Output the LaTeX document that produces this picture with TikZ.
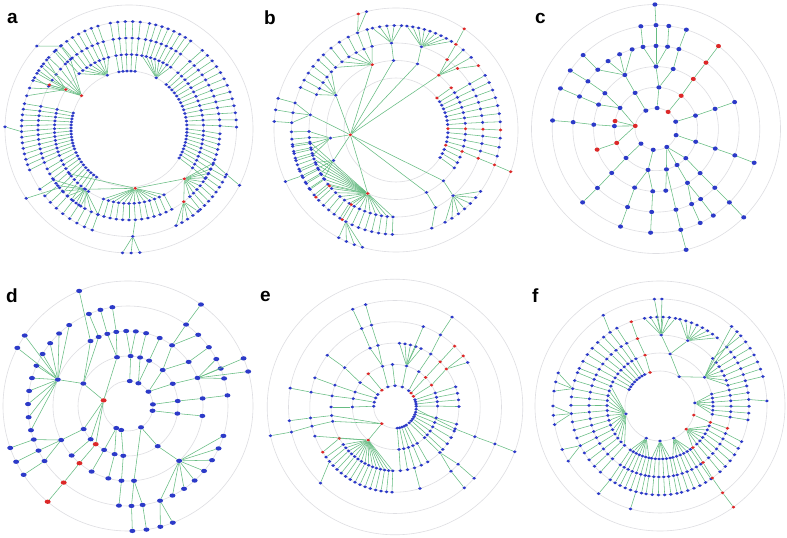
\documentclass[tikz,border=0pt]{standalone}
\usepackage{fontspec}
\setsansfont{Liberation Sans}
\usetikzlibrary{shapes.geometric}
\definecolor{nodeblue}{HTML}{2C3AC8}
\definecolor{nodered}{HTML}{DC2828}
\definecolor{linkgreen}{HTML}{66BC82}
\definecolor{ringgray}{HTML}{DEDEE2}
\tikzset{
  ring/.style={draw=ringgray,line width=0.6pt},
  link/.style={draw=linkgreen,line width=0.55pt},
  bl/.style={ellipse,fill=nodeblue,draw=none,inner sep=0pt,minimum width=3.8pt,minimum height=3pt},
  rd/.style={bl,fill=nodered},
  cb/.style={bl,minimum width=5pt,minimum height=4.3pt},
  cr/.style={cb,fill=nodered},
  db/.style={bl,minimum width=6pt,minimum height=4.3pt},
  dred/.style={db,fill=nodered},
  tag/.style={font=\sffamily\bfseries\fontsize{19}{19}\selectfont,anchor=base west,inner sep=0pt}
}
% level -> radius: \rin + level*\dr, both set by each panel
\newcommand\hub[4]{\node[#4] (#1) at ({#3}:{\rin+(#2)*\dr}) {};}
\newcommand\wire[2]{\draw[link] (#1) -- (#2);}
\newcommand\rings[1]{\foreach \rr in {#1}{\draw[ring] (0,0) circle[radius=\rr];}}
% fan: name, parent (or empty), level, first angle, last angle, count, levels further out, style, drift
\newcommand\fan[9]{%
  \foreach \kk in {1,...,#6}{%
    \pgfmathsetmacro\ang{#4+(\kk-1)*(#5-(#4))/max(#6-1,1)}%
    \node[#8] (#1-\kk) at ({\ang}:{\rin+(#3)*\dr}) {};
    \if\relax\detokenize{#2}\relax\else\wire{#2}{#1-\kk}\fi
    \ifnum#7>0\relax
      \foreach \jj in {1,...,#7}{%
        \pgfmathtruncatemacro\jp{\jj-1}%
        \node[#8] (#1-\kk-\jj) at ({\ang+\jj*(#9)}:{\rin+(#3+\jj)*\dr}) {};
        \ifnum\jj=1\relax\wire{#1-\kk}{#1-\kk-\jj}\else\wire{#1-\kk-\jp}{#1-\kk-\jj}\fi}%
    \fi}}
% branch: name, parent (or empty), style, list angle/level
\newcommand\branch[4]{%
  \foreach \an/\lv [count=\kk] in {#4}{%
    \pgfmathtruncatemacro\jp{\kk-1}%
    \node[#3] (#1-\kk) at ({\an}:{\rin+(\lv)*\dr}) {};
    \ifnum\kk=1\relax
      \if\relax\detokenize{#2}\relax\else\wire{#2}{#1-1}\fi
    \else\wire{#1-\jp}{#1-\kk}\fi}}

\begin{document}
\begin{tikzpicture}[x=1pt,y=1pt]
\useasboundingbox (0,0) rectangle (787,538);
\fill[white] (0,0) rectangle (787,538);

% panel a
\begin{scope}[shift={(129,409)}]
\def\rin{58}\def\dr{16.5}
\rings{58,74.5,91,107.5,124}
\hub{a-h1}{0}{112}{bl}
\fan{a-f1}{a-h1}{1}{132}{106}{8}{2}{bl}{0.4}
\fan{a-c1}{}{0}{100}{84}{5}{3}{bl}{0}
\hub{a-h2}{0}{62}{bl}
\fan{a-f2}{a-h2}{1}{80}{56}{8}{2}{bl}{-0.5}
\fan{a-c2}{}{0}{50}{4}{13}{3}{bl}{-1}
\fan{a-c3}{}{0}{0}{-30}{10}{2}{bl}{-1.5}
\hub{a-h3}{0.1}{-84}{rd}
\fan{a-f3}{a-h3}{1}{-62}{-110}{13}{1}{bl}{0}
\fan{a-f4}{a-f3-7-1}{3}{-88}{-88}{1}{0}{bl}{0}
\fan{a-f5}{a-f4-1}{4}{-85}{-93}{3}{0}{bl}{0}
\hub{a-h4}{1}{-42}{rd}
\wire{a-h3}{a-h4}
\fan{a-f6}{a-h4}{2}{-26}{-48}{8}{1}{bl}{-0.5}
\hub{a-h5}{2}{-53}{rd}
\wire{a-h4}{a-h5}
\fan{a-f7}{a-h5}{3}{-50}{-64}{5}{0}{bl}{0}
\branch{a-b1}{a-h4}{bl}{-22/2,-25/3,-27/4}
\hub{a-h6}{1}{-126}{bl}
\wire{a-h3}{a-h6}
\fan{a-f8}{a-h6}{2}{-110}{-146}{9}{1}{bl}{0}
\hub{a-h7}{1}{-143}{bl}
\wire{a-h3}{a-h7}
\fan{a-c4}{}{0}{164}{200}{13}{3}{bl}{0.8}
\fan{a-c5}{}{0}{204}{236}{10}{2}{bl}{1}
\branch{a-b2}{a-c4-6-3}{bl}{179/4}
\branch{a-b3}{a-c5-5-2}{bl}{214/4}
\hub{a-h8}{0}{145}{rd}
\fan{a-f9}{a-h8}{2}{152}{130}{6}{1}{bl}{-0.5}
\hub{a-h9}{1}{148}{rd}
\wire{a-h8}{a-h9}
\fan{a-f10}{a-h9}{3}{162}{140}{6}{0}{bl}{0}
\branch{a-b4}{a-h9}{rd}{151/2}
\branch{a-b5}{a-f9-6-1}{bl}{138/4}
\end{scope}

% panel b
\begin{scope}[shift={(396,408)}]
\def\rin{52}\def\dr{17.5}
\rings{52,69.5,87,104.5,122}
\hub{b-h1}{-0.35}{186}{rd}
\hub{b-h2}{1}{110}{rd}
\wire{b-h1}{b-h2}
\fan{b-f1}{b-h2}{2}{134}{106}{6}{1}{bl}{0}
\branch{b-r1}{b-f1-5-1}{rd}{108/4}
\branch{b-b1}{b-f1-5-1}{bl}{104/4}
\hub{b-h3}{1}{92}{bl}
\wire{b-h1}{b-h3}
\hub{b-h4}{2}{93}{bl}
\wire{b-h3}{b-h4}
\fan{b-f2}{b-h4}{3}{103}{87}{5}{0}{bl}{0}
\hub{b-h5}{1}{72}{bl}
\wire{b-h1}{b-h5}
\hub{b-h6}{2}{73}{bl}
\wire{b-h5}{b-h6}
\fan{b-f3}{b-h6}{3}{84}{58}{9}{0}{bl}{0}
\hub{b-h7}{1}{52}{rd}
\wire{b-h1}{b-h7}
\branch{b-r2}{b-h7}{rd}{54/2,55/3,56/4}
\branch{b-r3}{b-h7}{rd}{45/2,38/3}
\fan{b-f4}{b-h7}{3}{50}{44}{2}{0}{bl}{0}
\branch{b-r6}{}{rd}{38/0,37.4/1}
\fan{b-c1}{}{0}{33}{6}{7}{3}{bl}{-0.5}
\branch{b-r4}{}{rd}{1.5/0,1/1,0.5/2,0/3}
\fan{b-c2}{}{0}{-3}{-13}{3}{3}{bl}{-0.5}
\branch{b-r5}{}{rd}{-17/0,-18/1,-19/2,-19.5/3,-20/4}
\fan{b-c3}{}{0}{-22}{-32}{3}{1}{bl}{-1}
\hub{b-h8}{1}{-47}{bl}
\wire{b-h1}{b-h8}
\hub{b-h9}{2}{-49}{bl}
\wire{b-h8}{b-h9}
\fan{b-f5}{b-h9}{3}{-36}{-62}{7}{0}{bl}{0}
\hub{b-h10}{1}{-64}{bl}
\wire{b-h1}{b-h10}
\branch{b-b2}{b-h10}{bl}{-63/2,-70/3}
\hub{b-h11}{1}{-114}{rd}
\wire{b-h1}{b-h11}
\fan{b-f6}{b-h11}{2}{-172}{-92}{22}{1}{bl}{0}
\branch{b-r7}{b-h11}{rd}{-140/2,-140/3}
\branch{b-r8}{b-h11}{rd}{-121/2,-121/3}
\fan{b-f7}{b-f6-15-1}{4}{-118}{-106}{4}{0}{bl}{0}
\hub{b-h12}{1}{150}{bl}
\wire{b-h1}{b-h12}
\fan{b-f8}{b-h12}{2}{156}{138}{5}{1}{bl}{0}
\hub{b-h13}{2}{170}{bl}
\wire{b-h1}{b-h13}
\fan{b-f9}{b-h13}{3}{165}{176}{3}{1}{bl}{0}
\hub{b-h14}{0.8}{187}{bl}
\wire{b-h1}{b-h14}
\fan{b-f10}{b-h14}{2}{181}{197}{5}{1}{bl}{0}
\hub{b-h15}{1}{206}{bl}
\wire{b-h1}{b-h15}
\fan{b-f11}{b-h15}{2}{202}{214}{4}{1}{bl}{0}
\branch{b-b3}{b-f11-2-1}{bl}{205/4}
\end{scope}

% panel c
\begin{scope}[shift={(656,409)}]
\def\rin{21}\def\dr{20.7}
\rings{21,41.7,62.4,83.1,103.8,124.5}
\hub{c-h1}{0}{119}{cb}
\branch{c-b1}{c-h1}{cb}{120/1,120/2}
\fan{c-f1}{c-b1-2}{3}{134.5}{106.7}{4}{0}{cb}{0}
\branch{c-b2}{c-f1-1}{cb}{134.6/4}
\hub{c-h2}{0}{87}{cb}
\hub{c-h3}{1}{86}{cb}
\wire{c-h2}{c-h3}
\hub{c-h4}{2}{90}{cb}
\wire{c-h3}{c-h4}
\branch{c-b3}{c-h4}{cb}{99/3,98.4/4}
\branch{c-b4}{c-h4}{cb}{90/3,90/4,90.5/5}
\branch{c-b5}{c-h4}{cb}{82/3,82.9/4}
\branch{c-b6}{c-h3}{cb}{74/2,74/3,73/4}
\branch{c-r1}{}{cr}{54.6/0,52.8/1,53.3/2,53/3,53/4}
\branch{c-b7}{}{cb}{20.4/0,18.7/1,18.8/2,18.9/3}
\branch{c-b8}{}{cb}{-17/0,-17.8/1,-18.3/2,-18.5/3,-19/4}
\hub{c-h5}{0}{171.6}{cr}
\branch{c-b9}{c-h5}{cb}{149.7/1,145/2,145/3,145.7/4}
\branch{c-b10}{c-b9-1}{cb}{157/2,157/3,157/4}
\branch{c-r2}{c-h5}{cr}{169/1}
\branch{c-b11}{c-h5}{cb}{176/1,176/2,175.3/3,175.3/4}
\branch{c-r3}{c-h5}{cr}{199.5/1,199.3/2}
\branch{c-b12}{}{cb}{224.3/0,224/1,224.8/2,225.2/3,225/4}
\hub{c-h6}{0}{262.4}{cb}
\branch{c-b13}{c-h6}{cb}{259/1,250/2,250/3,250/4}
\branch{c-b14}{c-b13-1}{cb}{267/2,267/3,267/4}
\hub{c-h7}{0}{301}{cb}
\branch{c-b15}{c-h7}{cb}{284.5/1,279/2}
\branch{c-b16}{c-b15-1}{cb}{283.9/3,283.8/4,284/5}
\branch{c-b17}{c-h7}{cb}{300.3/1,300.3/2,295.4/3,295.2/4}
\branch{c-b18}{c-b17-2}{cb}{302.5/3,303.5/4}
\branch{c-b19}{c-h7}{cb}{315.6/1,315/2,315/3,315/4,314.8/5}
\end{scope}

% panel d
\begin{scope}[shift={(128,132)}]
\def\rin{25}\def\dr{25}
\rings{25,50,75,100,125}
\hub{d-h1}{0}{167}{dred}
\branch{d-b1}{d-h1}{db}{153.3/1,159.4/2}
\fan{d-f1}{d-b1-2}{3}{126}{194}{10}{0}{db}{0}
\branch{d-b2}{d-b1-2}{db}{145.7/4}
\branch{d-b3}{d-b1-2}{db}{152.3/4}
\branch{d-b4}{d-b1-1}{db}{120/2,113/4}
\branch{d-b5}{d-b1-1}{db}{113/2,113/3}
\branch{d-b6}{d-h1}{db}{102.7/1,106/2,106/3}
\branch{d-b7}{d-b6-1}{db}{99/2,99/3}
\hub{d-h2}{0}{86}{db}
\branch{d-b8}{d-h2}{db}{87/1,91.4/2}
\branch{d-b9}{d-b8-1}{db}{84/2}
\hub{d-h3}{0}{65.4}{db}
\branch{d-b10}{d-h3}{db}{76/1,76/2}
\branch{d-b11}{d-h3}{db}{65/1,65/2}
\hub{d-h4}{0}{35}{db}
\branch{d-b12}{d-h4}{db}{46/1,54/2,54.5/3,54.3/4}
\branch{d-b13}{d-h4}{db}{26.4/1,22/2}
\fan{d-f2}{d-b13-2}{3}{28}{16}{3}{0}{db}{0}
\fan{d-f3}{d-b13-2}{4}{22.4}{16}{2}{0}{db}{0}
\branch{d-b14}{d-b12-1}{db}{36/2,36/3}
\branch{d-b15}{d-b12-2}{db}{45.4/3}
\branch{d-b16}{}{db}{3.7/0,5.7/1,5.8/2,6.1/3}
\branch{d-b17}{}{db}{-11/0,-8.7/1,-7.6/2}
\branch{d-b18}{d-h1}{db}{207.5/1,207/2}
\fan{d-f4}{d-b18-2}{3}{199.6}{213.4}{3}{1}{db}{0}
\branch{d-b19}{d-h1}{db}{221.7/1,221.3/2}
\branch{d-r1}{d-h1}{dred}{229.8/1,229.7/2,230/3,230/4}
\hub{d-h5}{0}{242}{db}
\branch{d-b20}{d-h5}{db}{241.5/1,241/2}
\branch{d-b21}{d-h5}{db}{254.5/1,254.8/2}
\hub{d-h6}{0}{254.3}{db}
\branch{d-b22}{d-h6}{db}{264.6/1,265/2,264.8/3}
\hub{d-h7}{0}{301.4}{db}
\branch{d-b23}{d-h7}{db}{274.6/2,278.4/3,278.5/4}
\branch{d-b24}{d-b23-1}{db}{272/3,272/4}
\branch{d-b25}{d-h7}{db}{306.5/1,313/2}
\fan{d-f5}{d-b25-2}{3}{342.6}{288.7}{8}{0}{db}{0}
\branch{d-b26}{d-f5-8}{db}{285/4}
\branch{d-b27}{d-f5-8}{db}{291/4}
\end{scope}

% panel e
\begin{scope}[shift={(395,131)}]
\def\rin{21.3}\def\dr{21.3}
\rings{21.3,42.6,63.9,85.2,106.5,127.8}
\hub{e-h1}{0}{231.6}{rd}
\hub{e-h2}{1}{231}{rd}
\wire{e-h1}{e-h2}
\fan{e-f1}{e-h2}{2}{216}{268}{15}{1}{bl}{0}
\branch{e-r1}{e-h2}{rd}{209.4/2,212/3}
\branch{e-b1}{e-h2}{bl}{200/3}
\branch{e-b2}{e-f1-2-1}{bl}{225.6/4}
\branch{e-b3}{e-h1}{bl}{187.7/2,187.4/3,187.4/4}
\branch{e-b4}{e-h1}{bl}{193/2,193/3,193.6/4,193/5}
\branch{e-b5}{}{bl}{178/0,180/1,180/2}
\branch{e-b6}{}{bl}{167/0,168.7/1,170/2,170/3,169.8/4}
\branch{e-b7}{}{bl}{155/0,159.4/1,160/2,160/3}
\branch{e-b8}{}{bl}{144/0,145/1,142/2,142.6/3}
\branch{e-r2}{}{rd}{128/0,128.8/1}
\branch{e-b9}{}{bl}{109.5/0,107/1,105.5/2,106/3,106/4}
\branch{e-b10}{e-b9-2}{bl}{113/2,113/3,113.4/4}
\branch{e-b11}{}{bl}{90/0,93.4/1}
\hub{e-h3}{0}{70}{bl}
\hub{e-h4}{1}{74.3}{bl}
\wire{e-h3}{e-h4}
\fan{e-f2}{e-h4}{2}{86}{66}{5}{0}{bl}{0}
\branch{e-b12}{e-h4}{bl}{70.6/3}
\branch{e-b13}{}{bl}{50/0,56/1,56/2,57.8/3,57.6/4}
\branch{e-r3}{}{rd}{41/0,44/1,45/2,45.6/3}
\branch{e-r4}{}{rd}{30/0,31/1,36.5/2,36.8/3}
\branch{e-b14}{e-r4-3}{bl}{31.5/3}
\fan{e-c1}{}{0}{20}{2}{4}{2}{bl}{-0.8}
\branch{e-b15}{}{bl}{-6/0,-20/2,-20.4/3,-20.3/4,-20.5/5}
\fan{e-c3}{}{0}{-14}{-40}{5}{2}{bl}{-0.8}
\branch{e-b16}{}{bl}{-48/0,-46/1,-45.4/2,-48.9/3,-49.4/4}
\branch{e-b17}{e-b16-3}{bl}{-42.2/3,-42/4}
\fan{e-c2}{}{0}{-58}{-84}{5}{2}{bl}{-0.6}
\branch{e-b18}{e-c2-3-2}{bl}{-73/3}
\end{scope}

% panel f
\begin{scope}[shift={(660,132)}]
\def\rin{35}\def\dr{18}
\rings{35,53,71,89,107,125}
\hub{f-h1}{0}{193}{bl}
\fan{f-f1}{f-h1}{1}{158}{228}{14}{2}{bl}{0}
\fan{f-f2}{f-f1-3-2}{4}{162}{172}{3}{0}{bl}{0}
\fan{f-f3}{f-f1-6-2}{4}{180}{190}{3}{0}{bl}{0}
\fan{f-f4}{f-f1-10-2}{4}{204}{211}{2}{0}{bl}{0}
\hub{f-h2}{0}{247}{bl}
\fan{f-f5}{f-h2}{1}{236}{258}{7}{2}{bl}{0}
\hub{f-h3}{0}{270}{bl}
\fan{f-f6}{f-h3}{1}{261}{281}{6}{2}{bl}{0}
\hub{f-h4}{0}{293}{bl}
\fan{f-f7}{f-h4}{1}{284}{305}{6}{2}{bl}{0}
\branch{f-b1}{f-f5-6-2}{bl}{254/4}
\branch{f-b2}{f-f5-1-2}{bl}{235/4}
\hub{f-h5}{0}{-41.4}{rd}
\fan{f-f8}{f-h5}{1}{-22}{-46}{6}{2}{bl}{-0.8}
\branch{f-r1}{f-h5}{rd}{-51.7/1,-52.7/2,-54/3,-54.2/4,-54/5}
\branch{f-r2}{}{rd}{-15/0,-18/1,-18.3/2}
\hub{f-h6}{0}{5}{bl}
\fan{f-f9}{f-h6}{1}{13}{-9}{6}{2}{bl}{0}
\branch{f-b3}{f-f9-3-2}{bl}{2.7/4}
\hub{f-h7}{0}{56.8}{bl}
\hub{f-h8}{1}{32.8}{bl}
\wire{f-h7}{f-h8}
\fan{f-f10}{f-h8}{2}{42}{17}{7}{2}{bl}{-0.5}
\fan{f-f11}{f-h8}{4}{48}{44}{2}{0}{bl}{0}
\hub{f-h9}{1}{79}{bl}
\wire{f-h7}{f-h9}
\hub{f-h10}{2}{89}{bl}
\wire{f-h9}{f-h10}
\fan{f-f12}{f-h10}{3}{100}{80}{6}{0}{bl}{0}
\fan{f-f13}{f-h10}{4}{93}{89}{2}{0}{bl}{0}
\hub{f-h11}{2}{67}{bl}
\wire{f-h9}{f-h11}
\fan{f-f14}{f-h11}{3}{77}{50}{8}{0}{bl}{0}
\branch{f-r3}{}{rd}{106.5/0,106.4/1,108.5/2,108.8/3}
\fan{f-c1}{}{0}{116}{152}{8}{3}{bl}{1}
\branch{f-b4}{f-c1-2-3}{bl}{122/4}
\end{scope}

\node[tag] (tag-a) at (7,514) {a};
\node[tag] (tag-b) at (264,513) {b};
\node[tag] (tag-c) at (535,514) {c};
\node[tag] (tag-d) at (6,235) {d};
\node[tag] (tag-e) at (260,236) {e};
\node[tag] (tag-f) at (532,235) {f};
\end{tikzpicture}
\end{document}
